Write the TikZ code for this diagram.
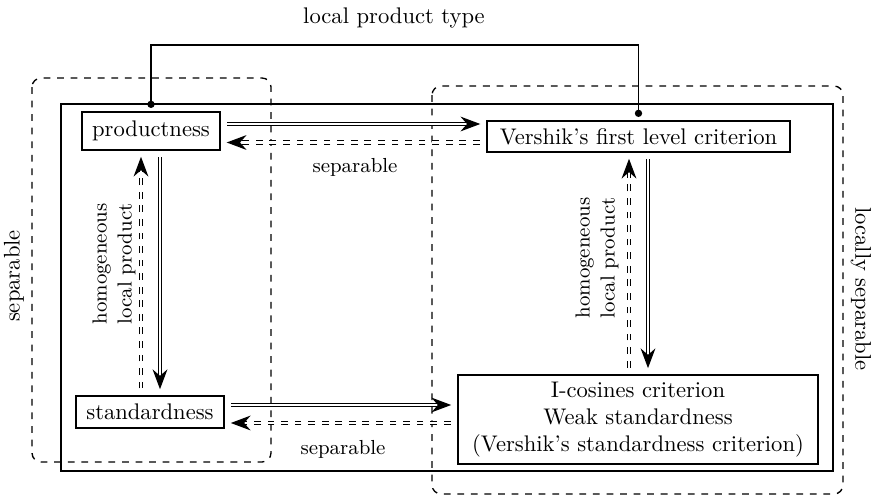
\documentclass[tikz,border=0pt]{standalone}
\usetikzlibrary{arrows.meta,decorations.markings}

\begin{document}
\begin{tikzpicture}[x=0.4425pt,y=-0.4425pt,
    critbox/.style={draw,semithick,inner sep=0pt,align=center},
    impl/.style={double,double distance=0.9pt,line width=0.5pt,
        shorten <=3pt,shorten >=7pt,postaction={decorate},
        decoration={markings,mark=at position -3pt with
            {\fill (0.3pt,0) -- (-8.5pt,3.3pt) -- (-5.6pt,0) -- (-8.5pt,-3.3pt) -- cycle;}}},
    dimpl/.style={impl,dashed},
    region/.style={draw,dashed,semithick,rounded corners=4pt},
    link/.style={semithick,{Circle[length=3.2pt]}-{Circle[length=3.2pt]},shorten <=1.5pt,shorten >=1.5pt},
    lbl/.style={font=\small,inner sep=1pt}]
    \useasboundingbox (0,0) rectangle (873,497);
    % the four notions
    \node[critbox,minimum width=61pt,minimum height=16.8pt] (prod) at (151,131) {productness};
    \node[critbox,minimum width=134pt,minimum height=13.7pt] (vfl) at (638.5,136.5) {Vershik's first level criterion};
    \node[critbox,minimum width=65.5pt,minimum height=14.2pt] (std) at (150,412) {standardness};
    \node[critbox,minimum width=159.3pt,minimum height=39.4pt] (icos) at (638,419.5)
        {I-cosines criterion\\Weak standardness\\(Vershik's standardness criterion)};
    % frames
    \draw[thick] (61,104) rectangle (833,471);
    \draw[region] (32,78) rectangle (271,462);
    \draw[region] (432,86) rectangle (843,494);
    \node[rotate=90] (sepleft) at (14,276) {separable};
    \node[rotate=-90] (locsep) at (861,289) {locally separable};
    % local product type
    \coordinate (lpt) at (394,45);
    \node (lpttext) at (394,18) {local product type};
    \draw[link] (prod.north) |- (lpt) -| (vfl.north);
    % horizontal implications
    \draw[impl] (prod.east |- 0,124) -- (vfl.west |- 0,124);
    \draw[dimpl] (vfl.west |- 0,142.5) -- (prod.east |- 0,142.5);
    \node[lbl] (septop) at (355,167) {separable};
    \draw[impl] (std.east |- 0,405) -- (icos.west |- 0,405);
    \draw[dimpl] (icos.west |- 0,423) -- (std.east |- 0,423);
    \node[lbl] (sepbot) at (343,449) {separable};
    % vertical implications
    \draw[impl] (prod.south -| 160,0) -- (std.north -| 160,0);
    \draw[dimpl] (std.north -| 141,0) -- (prod.south -| 141,0);
    \node[lbl,rotate=90,align=center] (homleft) at (114,264) {homogeneous\\local product};
    \draw[impl] (vfl.south -| 648,0) -- (icos.north -| 648,0);
    \draw[dimpl] (icos.north -| 629,0) -- (vfl.south -| 629,0);
    \node[lbl,rotate=90,align=center] (homright) at (597,258) {homogeneous\\local product};
\end{tikzpicture}
\end{document}
